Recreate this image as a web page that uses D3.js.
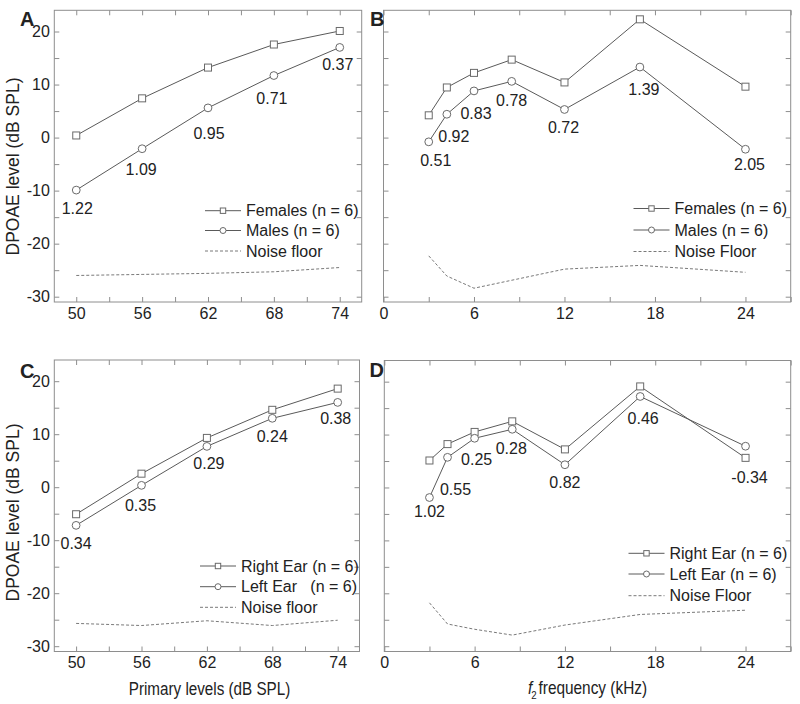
<!DOCTYPE html>
<html><head><meta charset="utf-8">
<script src="https://cdn.jsdelivr.net/npm/d3@7"></script>
<style>
body{margin:0;background:#fff}
text{font-family:"Liberation Sans",Arial,sans-serif;fill:#222}
</style>
</head><body><svg id="c" width="800" height="704"></svg>
<script>
// ---------- data ----------
const levels = [50, 56, 62, 68, 74];
const freqs = [3, 4.2, 6, 8.5, 12, 17, 24];

const femalesA = [0.4, 7.4, 13.2, 17.55, 20.1];
const malesA = [-9.9, -2.1, 5.6, 11.7, 17.0];
const noiseA = [-26.0, -25.8, -25.6, -25.3, -24.5];
const labelsA = ["1.22", "1.09", "0.95", "0.71", "0.37"];

const femalesB = [4.2, 9.45, 12.2, 14.7, 10.4, 22.3, 9.6];
const malesB = [-0.8, 4.4, 8.8, 10.6, 5.3, 13.3, -2.2];
const noiseB = [-22.3, -26.1, -28.4, -26.9, -24.8, -24.1, -25.4];
const labelsB = ["0.51", "0.92", "0.83", "0.78", "0.72", "1.39", "2.05"];

const rightC = [-5.1, 2.55, 9.3, 14.6, 18.6];
const leftC = [-7.2, 0.35, 7.7, 13.0, 16.0];
const noiseC = [-25.7, -26.1, -25.2, -26.1, -25.1];
const labelsC = ["0.34", "0.35", "0.29", "0.24", "0.38"];

const rightD = [5.1, 8.2, 10.5, 12.5, 7.2, 19.1, 5.6];
const leftD = [-1.9, 5.7, 9.3, 11.0, 4.3, 17.2, 7.8];
const noiseD = [-21.8, -25.8, -26.8, -27.9, -26.0, -24.0, -23.2];
const labelsD = ["1.02", "0.55", "0.25", "0.28", "0.82", "0.46", "-0.34"];

const yMajorTicks = [-30, -20, -10, 0, 10, 20];
const yAllTicks = [-30, -25, -20, -15, -10, -5, 0, 5, 10, 15, 20];
const levelMajorTicks = [50, 56, 62, 68, 74];
const levelAllTicks = [50, 53, 56, 59, 62, 65, 68, 71, 74];
const freqMajorTicks = [0, 6, 12, 18, 24];
const freqAllTicks = [0, 3, 6, 9, 12, 15, 18, 21, 24, 27];

const legendAB = ["Females (n = 6)", "Males (n = 6)"];
const legendCD = ["Right Ear (n = 6)", "Left Ear (n = 6)"];
const legendC2 = "Left Ear   (n = 6)";

// ---------- layout ----------
const svg = d3.select("#c");
const FRAME = "#8e8e8e", LINE = "#5a5a5a", MARK = "#6a6a6a", NOISE = "#6a6a6a";

const panels = [
  {letter:"A", lx:20, ly:26, xs:levels, xDom:[48,76], xAll:levelAllTicks, xMaj:levelMajorTicks,
   L:54.3, R:361.7, T:10.3, B:302, s1:femalesA, s2:malesA, nz:noiseA, labels:labelsA,
   off:[[1,18],[-1,21],[1,25],[-2,23],[-2,17]],
   leg:[legendAB[0], legendAB[1], "Noise floor"], legX:205, legRows:[210.7,230.5,251], yLabels:true},
  {letter:"B", lx:370, ly:26, xs:freqs, xDom:[0,27], xAll:freqAllTicks, xMaj:freqMajorTicks,
   L:383.5, R:790.7, T:10.3, B:302, s1:femalesB, s2:malesB, nz:noiseB, labels:labelsB,
   off:[[7,18],[7,22],[2,22],[0,19],[-1,18],[4,22],[4,15]],
   leg:[legendAB[0], legendAB[1], "Noise Floor"], legX:633.5, legRows:[208.5,230,251.5], yLabels:false},
  {letter:"C", lx:20, ly:378, xs:levels, xDom:[48,76], xAll:levelAllTicks, xMaj:levelMajorTicks,
   L:54.3, R:359.5, T:360, B:651.5, s1:rightC, s2:leftC, nz:noiseC, labels:labelsC,
   off:[[0,18],[-1,20],[2,17],[0,18],[-2,16]],
   leg:[legendCD[0], legendC2, "Noise floor"], legX:200, legRows:[566,586.7,607.3], yLabels:true},
  {letter:"D", lx:369.5, ly:377, xs:freqs, xDom:[0,27], xAll:freqAllTicks, xMaj:freqMajorTicks,
   L:384.3, R:790.7, T:360.5, B:651.5, s1:rightD, s2:leftD, nz:noiseD, labels:labelsD,
   off:[[0,14],[8,32],[2,21],[-1,19],[0,18],[3,22],[4,19]],
   leg:[legendCD[0], legendCD[1], "Noise Floor"], legX:628.5, legRows:[553.3,574,595.7], yLabels:false}
];

panels.forEach(p => {
  const x = d3.scaleLinear().domain(p.xDom).range([p.L, p.R]);
  const y = d3.scaleLinear().domain([-31, 24]).range([p.B, p.T]);
  const g = svg.append("g");

  const styleAxis = (sel) => {
    sel.select(".domain").remove();
    sel.selectAll(".tick line").attr("stroke", FRAME);
    sel.selectAll(".tick text").attr("font-size", 16).attr("fill", "#222")
      .style("font-family", '"Liberation Sans",Arial,sans-serif');
  };
  const fmtX = d => p.xMaj.includes(d) ? d : "";
  const fmtY = d => yMajorTicks.includes(d) ? d : "";

  g.append("g").attr("transform", `translate(0,${p.B})`)
    .call(d3.axisBottom(x).tickValues(p.xAll).tickSize(-5).tickPadding(5.5).tickFormat(fmtX)).call(styleAxis);
  g.append("g").attr("transform", `translate(0,${p.T})`)
    .call(d3.axisTop(x).tickValues(p.xAll).tickSize(-5).tickFormat("")).call(styleAxis);
  g.append("g").attr("transform", `translate(${p.L},0)`)
    .call(d3.axisLeft(y).tickValues(yAllTicks).tickSize(-5).tickPadding(4.5).tickFormat(p.yLabels ? fmtY : () => "")).call(styleAxis);
  g.append("g").attr("transform", `translate(${p.R},0)`)
    .call(d3.axisRight(y).tickValues(yAllTicks).tickSize(-5).tickFormat("")).call(styleAxis);

  g.append("rect").attr("x", p.L).attr("y", p.T).attr("width", p.R - p.L).attr("height", p.B - p.T)
    .attr("fill", "none").attr("stroke", FRAME).attr("stroke-width", 1);

  // noise floor
  const line = d3.line().x((d, i) => x(p.xs[i])).y(d => y(d));
  g.append("path").datum(p.nz).attr("d", line).attr("fill", "none")
    .attr("stroke", NOISE).attr("stroke-width", 0.9).attr("stroke-dasharray", "3,2");

  // series lines
  [p.s1, p.s2].forEach(s => {
    g.append("path").datum(s).attr("d", line).attr("fill", "none")
      .attr("stroke", LINE).attr("stroke-width", 1);
  });
  // markers
  g.selectAll(".sq").data(p.s1).enter().append("rect")
    .attr("x", (d, i) => x(p.xs[i]) - 3.5).attr("y", d => y(d) - 3.5)
    .attr("width", 7).attr("height", 7).attr("fill", "#fff").attr("stroke", MARK).attr("stroke-width", 1);
  g.selectAll(".ci").data(p.s2).enter().append("circle")
    .attr("cx", (d, i) => x(p.xs[i])).attr("cy", d => y(d)).attr("r", 3.9)
    .attr("fill", "#fff").attr("stroke", MARK).attr("stroke-width", 1);

  // value labels (below lower point)
  g.selectAll(".lab").data(p.labels).enter().append("text")
    .attr("x", (d, i) => x(p.xs[i]) + p.off[i][0])
    .attr("y", (d, i) => y(Math.min(p.s1[i], p.s2[i])) + p.off[i][1])
    .attr("dy", "0.36em").attr("text-anchor", "middle").attr("font-size", 16).text(d => d);

  // legend
  const lw = 36;
  p.leg.forEach((t, k) => {
    const ry = p.legRows[k];
    const lg = g.append("g");
    lg.append("line").attr("x1", p.legX).attr("x2", p.legX + lw).attr("y1", ry).attr("y2", ry)
      .attr("stroke", k === 2 ? NOISE : LINE).attr("stroke-width", k === 2 ? 0.9 : 1)
      .attr("stroke-dasharray", k === 2 ? "3,2" : null);
    if (k === 0) lg.append("rect").attr("x", p.legX + lw/2 - 2.7).attr("y", ry - 2.7).attr("width", 5.4).attr("height", 5.4)
      .attr("fill", "#fff").attr("stroke", MARK);
    if (k === 1) lg.append("circle").attr("cx", p.legX + lw/2).attr("cy", ry).attr("r", 3)
      .attr("fill", "#fff").attr("stroke", MARK);
    lg.append("text").attr("x", p.legX + lw + 5).attr("y", ry).attr("dy", "0.36em")
      .attr("font-size", 16).style("white-space", "pre").attr("xml:space", "preserve").text(t);
  });

  // panel letter
  svg.append("text").attr("x", p.lx).attr("y", p.ly).attr("font-size", 20).attr("font-weight", "bold")
    .attr("fill", "#111").text(p.letter);
});

// axis titles
[166.5, 512.5].forEach(cy => {
  svg.append("text").attr("transform", `translate(19,${cy}) rotate(-90)`)
    .attr("text-anchor", "middle").attr("font-size", 17.5).text("DPOAE level (dB SPL)");
});
svg.append("text").attr("transform", "translate(209.5,695) scale(0.87,1)").attr("text-anchor", "middle")
  .attr("font-size", 17.5).text("Primary levels (dB SPL)");
const ft = svg.append("text").attr("transform", "translate(587.5,694) scale(0.88,1)")
  .attr("text-anchor", "middle").attr("font-size", 17.5);
ft.append("tspan").attr("font-style", "italic").text("f");
ft.append("tspan").attr("font-size", 11).attr("dx", -1).attr("dy", 5).text("2");
ft.append("tspan").attr("dx", 2).attr("dy", -5).text("frequency (kHz)");
</script>
</body></html>
